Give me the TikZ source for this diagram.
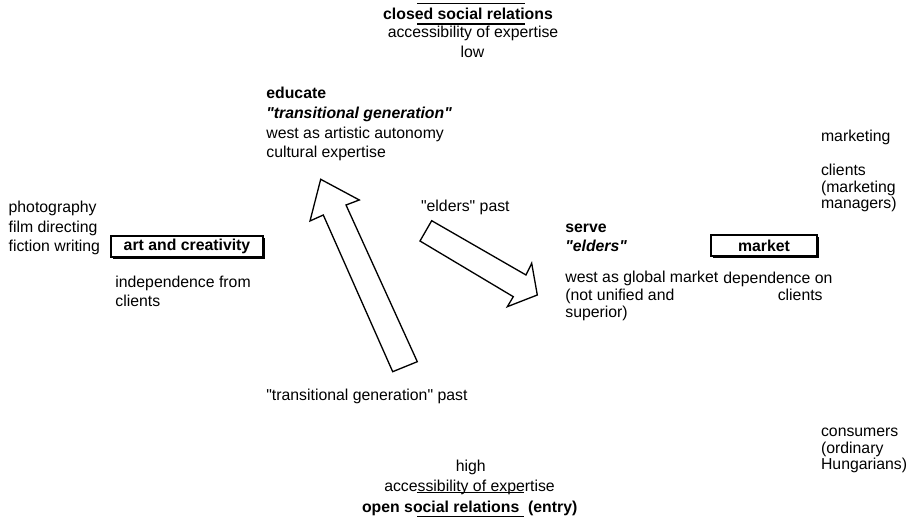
\documentclass[tikz,border=0pt]{standalone}
\usepackage{fontspec}
\setmainfont{Liberation Sans}[Ligatures=TeXOff]
\usetikzlibrary{positioning,shadows}

\begin{document}
\begin{tikzpicture}[x=0.02cm, y=-0.02cm,
    txt/.style={inner sep=0pt, align=left, font=\fontsize{9}{#1}\selectfont},
    txt/.default=11.2pt,
    field/.style={draw, fill=white, line width=0.7pt, inner sep=0pt,
      font=\fontsize{9}{11}\selectfont\bfseries, minimum height=0.42cm,
      drop shadow={shadow xshift=0.035cm, shadow yshift=-0.035cm, opacity=1, fill=black}},
    blockarrow/.style={draw, line width=0.75pt, line join=miter},
    axisbar/.style={line width=1.1pt}]
  \useasboundingbox (0,0) rectangle (914,519);

  % Top end: closed relations
  \node[txt, anchor=base] (closed) at (468,20) {\bfseries closed social relations};
  \node[txt, anchor=base] (accesslow) at (473,37.3) {accessibility of expertise};
  \node[txt, anchor=base] (low) at (472.5,57.3) {low};
  \draw[axisbar] (417,3.5) -- (525,3.5);
  \draw[axisbar] (417,24) -- (525,24);

  % Bottom end: open relations
  \node[txt, anchor=base] (high) at (470.7,471.7) {high};
  \node[txt, anchor=base] (accesshigh) at (469.5,491.5) {accessibility of expertise};
  \node[txt, anchor=base west] (open) at (361.7,512.7) {\bfseries open social relations\ \ (entry)};
  \draw[axisbar] (417,492.5) -- (524,492.5);
  \draw[axisbar] (417,516.5) -- (524,516.5);

  % Left pole (base = last line)
  \node[txt, anchor=base west] (media) at (8.3,251.7) {photography\\film directing\\fiction writing};
  \node[field, minimum width=3.04cm] (art) at (187,246.5) {art and creativity};
  \node[txt, anchor=base west] (indep) at (115,306.7) {independence from\\clients};

  % Educate
  \node[txt, anchor=base west] (educate) at (266,158) {\bfseries educate\\\bfseries\itshape "transitional generation"\\west as artistic autonomy\\cultural expertise};

  % Serve
  \node[txt=10.8pt, anchor=base west] (serve) at (565,251.7) {\bfseries serve\\\bfseries\itshape "elders"};
  \node[txt=10.1pt, anchor=base west] (west) at (565,318) {west as global market\\(not unified and\\superior)};

  % Right pole
  \node[field, minimum width=2.12cm] (market) at (764,245.5) {market};
  \node[txt=10.1pt, anchor=base west] (depend) at (723,301) {dependence on\\\hspace*{31pt}clients};
  \node[txt, anchor=base west] (marketing) at (820.7,141.7) {marketing};
  \node[txt=9.2pt, anchor=base west] (clients) at (820.7,208.3) {clients\\(marketing\\managers)};
  \node[txt=9.2pt, anchor=base west] (consumers) at (820.7,469.3) {consumers\\(ordinary\\Hungarians)};

  % Block arrows
  \node[txt, anchor=base west] (elderspast) at (420.7,211.7) {"elders" past};
  \node[txt, anchor=base west] (transpast) at (266,401) {"transitional generation" past};
  \draw[blockarrow] (392.7,371.7) -- (323.3,215) -- (310,221) -- (320.7,179.3)
    -- (359.3,200) -- (346,205) -- (417.3,361.7) -- cycle;
  \draw[blockarrow] (431.7,220.7) -- (526,275) -- (531.7,263.3) -- (537.3,295)
    -- (507.3,306.7) -- (513.3,296.7) -- (420,241) -- cycle;
\end{tikzpicture}
\end{document}
